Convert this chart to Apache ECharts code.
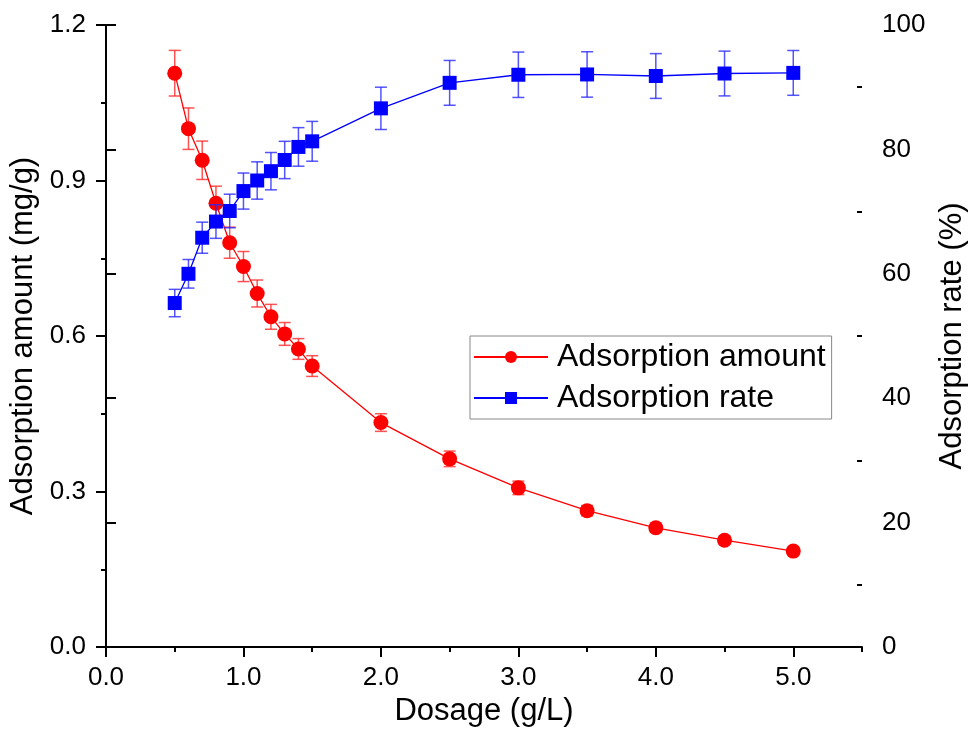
<!DOCTYPE html>
<html>
<head>
<meta charset="utf-8">
<script src="https://cdn.jsdelivr.net/npm/echarts@6/dist/echarts.min.js"></script>
<style>
html,body{margin:0;padding:0;background:#fff;}
#chart{width:970px;height:742px;}
</style>
</head>
<body>
<div id="chart"></div>
<script>
const dosage = [0.5,0.6,0.7,0.8,0.9,1.0,1.1,1.2,1.3,1.4,1.5,2.0,2.5,3.0,3.5,4.0,4.5,5.0];
const amount = [1.107,1.000,0.939,0.856,0.780,0.734,0.682,0.637,0.604,0.575,0.542,0.433,0.363,0.307,0.263,0.230,0.206,0.185];
const amountErr = [0.044,0.040,0.037,0.033,0.030,0.029,0.026,0.024,0.022,0.020,0.020,0.017,0.015,0.013,0.010,0.009,0.008,0.007];
const rate = [55.3,60.0,65.8,68.4,70.1,73.3,75.0,76.5,78.3,80.4,81.3,86.6,90.7,92.0,92.05,91.8,92.2,92.3];
const rateErr = [2.2,2.3,2.5,2.7,2.7,2.9,3.0,3.0,3.0,3.1,3.2,3.4,3.6,3.65,3.65,3.6,3.6,3.6];

const xMajorTicks = [0,1,2,3,4,5];
const xMinorTicks = [0.5,1.5,2.5,3.5,4.5,5.5];
const rightMinorTicks = [10,30,50,70,90];

const FONT = "'Liberation Sans', Arial, sans-serif";
const chart = echarts.init(document.getElementById('chart'));

function errItem(color) {
  return function (params, api) {
    const x = api.value(0), y = api.value(1), e = api.value(2);
    const top = api.coord([x, y + e]);
    const bot = api.coord([x, y - e]);
    const hw = 6;
    const style = {stroke: color, lineWidth: 1.5};
    return {
      type: 'group',
      children: [
        {type: 'line', shape: {x1: top[0], y1: top[1], x2: bot[0], y2: bot[1]}, style: style},
        {type: 'line', shape: {x1: top[0]-hw, y1: top[1], x2: top[0]+hw, y2: top[1]}, style: style},
        {type: 'line', shape: {x1: bot[0]-hw, y1: bot[1], x2: bot[0]+hw, y2: bot[1]}, style: style}
      ]
    };
  };
}

const axisLineStyle = {show: true, lineStyle: {color: '#000', width: 2}};

chart.setOption({
  animation: false,
  backgroundColor: '#fff',
  textStyle: {fontFamily: FONT},
  grid: {left: 106, right: 108, top: 25, bottom: 95, containLabel: false, outerBoundsMode: 'none'},
  legend: {
    orient: 'vertical',
    left: 470, top: 336,
    padding: [5, 6, 5, 3],
    itemGap: 9,
    itemWidth: 74, itemHeight: 15,
    borderColor: '#888', borderWidth: 1,
    textStyle: {fontSize: 32, color: '#000', fontFamily: FONT, padding: [0,0,0,4]},
    data: ['Adsorption amount', 'Adsorption rate']
  },
  xAxis: [{
    type: 'value', min: 0, max: 5.5, position: 'bottom',
    name: 'Dosage (g/L)', nameLocation: 'middle', nameGap: 46,
    nameTextStyle: {fontSize: 31, color: '#000', fontFamily: FONT},
    axisLine: axisLineStyle,
    axisTick: {show: true, length: 10, lineStyle: {width: 2, color: '#000'}, customValues: xMajorTicks},
    axisLabel: {fontSize: 26, color: '#000', margin: 18, fontFamily: FONT, customValues: xMajorTicks,
      formatter: v => v.toFixed(1)},
    splitLine: {show: false}
  }, {
    type: 'value', min: 0, max: 5.5, position: 'bottom',
    axisLine: {show: false},
    axisTick: {show: true, length: 5, lineStyle: {width: 2, color: '#000'}, customValues: xMinorTicks},
    axisLabel: {show: false},
    splitLine: {show: false}
  }],
  yAxis: [{
    type: 'value', min: 0, max: 1.2, interval: 0.3, position: 'left',
    name: 'Adsorption amount (mg/g)', nameLocation: 'middle', nameGap: 63, nameRotate: 90,
    nameTextStyle: {fontSize: 31, color: '#000', fontFamily: FONT},
    axisLine: axisLineStyle,
    axisTick: {show: true, length: 10, lineStyle: {width: 2, color: '#000'}},
    minorTick: {show: true, splitNumber: 2, length: 5, lineStyle: {width: 2, color: '#000'}},
    axisLabel: {fontSize: 26, color: '#000', margin: 20, fontFamily: FONT, formatter: v => v.toFixed(1)},
    splitLine: {show: false}
  }, {
    type: 'value', min: 0, max: 100, interval: 20, position: 'right',
    name: 'Adsorption rate (%)', nameLocation: 'middle', nameGap: 75, nameRotate: 90,
    nameTextStyle: {fontSize: 31, color: '#000', fontFamily: FONT},
    axisLine: axisLineStyle,
    axisTick: {show: true, length: 10, lineStyle: {width: 2, color: '#000'}},
    axisLabel: {fontSize: 26, color: '#000', margin: 20, fontFamily: FONT},
    splitLine: {show: false}
  }, {
    type: 'value', min: 0, max: 100, position: 'right',
    axisLine: {show: false},
    axisTick: {show: true, inside: true, length: 5, lineStyle: {width: 2, color: '#000'}, customValues: rightMinorTicks},
    axisLabel: {show: false},
    splitLine: {show: false}
  }],
  series: [{
    name: 'amountErr', type: 'custom', xAxisIndex: 0, yAxisIndex: 0, z: 1,
    renderItem: errItem('rgba(255,40,40,0.8)'),
    data: dosage.map((d, i) => [d, amount[i], amountErr[i]])
  }, {
    name: 'Adsorption amount', type: 'line', xAxisIndex: 0, yAxisIndex: 0, z: 2,
    data: dosage.map((d, i) => [d, amount[i]]),
    symbol: 'circle', symbolSize: 15,
    itemStyle: {color: '#ff0000'},
    lineStyle: {color: '#ff0000', width: 1.3}
  }, {
    name: 'rateErr', type: 'custom', xAxisIndex: 0, yAxisIndex: 1, z: 3,
    renderItem: errItem('rgba(40,40,255,0.8)'),
    data: dosage.map((d, i) => [d, rate[i], rateErr[i]])
  }, {
    name: 'Adsorption rate', type: 'line', xAxisIndex: 0, yAxisIndex: 1, z: 4,
    data: dosage.map((d, i) => [d, rate[i]]),
    symbol: 'rect', symbolSize: 14,
    itemStyle: {color: '#0000ff'},
    lineStyle: {color: '#0000ff', width: 1.3}
  }]
});
</script>
</body>
</html>
